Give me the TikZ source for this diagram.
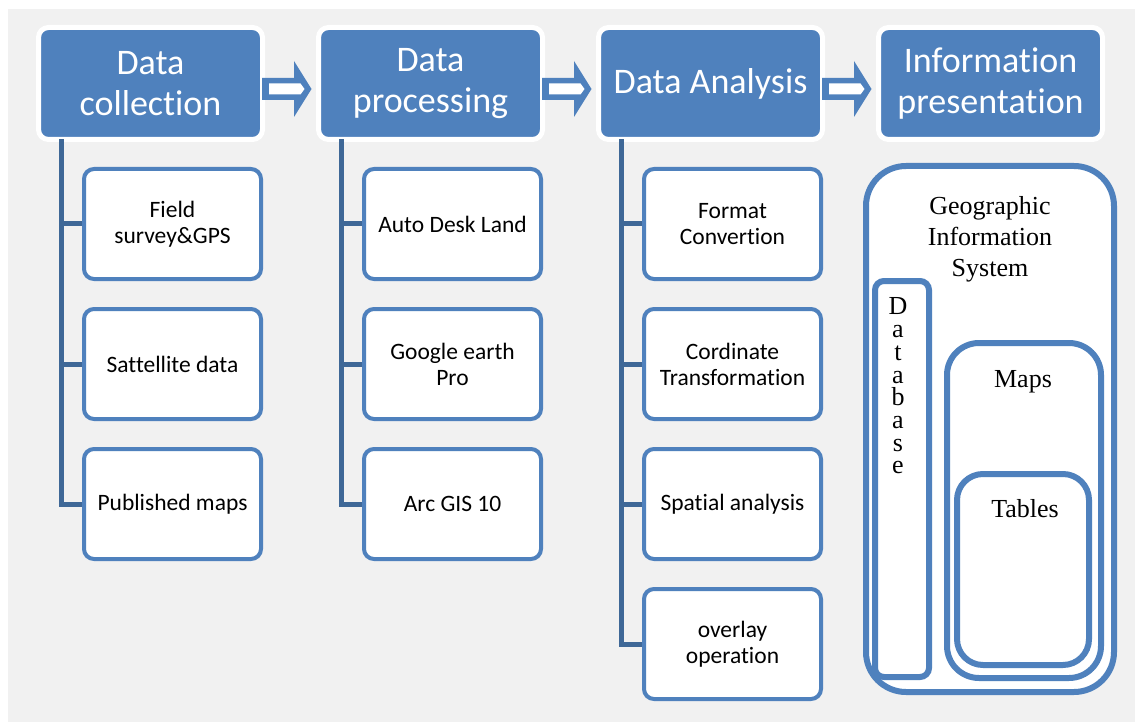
\documentclass[tikz,border=0pt]{standalone}
\usepackage{fontspec}
\setmainfont[Ligatures=NoCommon]{Carlito}
\newfontfamily\serifgis{Liberation Serif}
\usetikzlibrary{calc}
\definecolor{hblue}{HTML}{4F81BD}
\definecolor{cblue}{HTML}{4F81BD}
\definecolor{lblue}{HTML}{3F6897}
\definecolor{bgray}{HTML}{F1F1F1}
\begin{document}
\begin{tikzpicture}[x=1pt,y=-1pt,
 header/.style={rectangle, rounded corners=10pt, fill=hblue, draw=white, line width=5pt, minimum width=224pt, minimum height=112pt, inner sep=0pt, outer sep=0pt, text=white, align=center, font=\fontsize{36}{41}\selectfont},
 item/.style={rectangle, rounded corners=10pt, fill=white, draw=cblue, line width=4pt, minimum width=177pt, minimum height=110pt, inner sep=0pt, outer sep=2pt, align=center, font=\fontsize{23.5}{26}\selectfont},
 conn/.style={draw=lblue, line width=5pt},
 gisbox/.style={rectangle, draw=cblue, fill=white, line width=6pt, inner sep=0pt, outer sep=0pt},
 gistext/.style={font=\serifgis\fontsize{26}{31}\selectfont, align=center, inner sep=0pt},
 arrowout/.style={fill=hblue},
 arrowin/.style={fill=white}
]
\useasboundingbox (0,0) rectangle (1135,722);
\fill[white] (0,0) rectangle (1135,722);
\fill[bgray] (8,9) rectangle (1135,722);

% headers
\node[header] (h1) at (150.5,83.5) {Data\\collection};
\node[header] (h2) at (430.5,83.5) {Data\\processing};
\node[header] (h3) at (710.5,83.5) {Data Analysis};
\node[header] (h4) at (990.5,83.5) {Information\\presentation};

% items
\node[item] (c11) at (172.5,224) {Field\\survey\&GPS};
\node[item] (c12) at (172.5,364) {Sattellite data};
\node[item] (c13) at (172.5,504) {Published maps};
\node[item] (c21) at (452.5,224) {Auto Desk Land};
\node[item] (c22) at (452.5,364) {Google earth\\Pro};
\node[item] (c23) at (452.5,504) {Arc GIS 10};
\node[item] (c31) at (732.5,224) {Format\\Convertion};
\node[item] (c32) at (732.5,364) {Cordinate\\Transformation};
\node[item] (c33) at (732.5,504) {Spatial analysis};
\node[item] (c34) at (732.5,644) {overlay\\operation};

% connectors
\coordinate (v1) at ([xshift=22.5pt]h1.south west);
\coordinate (v2) at ([xshift=22.5pt]h2.south west);
\coordinate (v3) at ([xshift=22.5pt]h3.south west);
\draw[conn] (v1) |- (c13.west);
\draw[conn] (c11.west) -- (c11.west -| v1);
\draw[conn] (c12.west) -- (c12.west -| v1);
\draw[conn] (v2) |- (c23.west);
\draw[conn] (c21.west) -- (c21.west -| v2);
\draw[conn] (c22.west) -- (c22.west -| v2);
\draw[conn] (v3) |- (c34.west);
\draw[conn] (c31.west) -- (c31.west -| v3);
\draw[conn] (c32.west) -- (c32.west -| v3);
\draw[conn] (c33.west) -- (c33.west -| v3);

% block arrows between headers
\foreach \h in {h1,h2,h3}{
  \begin{scope}[shift={(\h.east)}]
    \fill[arrowout] (-0.5,-5.5) -- (31.5,-5.5) -- (31.5,-22.5) -- (49,5.5) -- (31.5,33.5) -- (31.5,16.5) -- (-0.5,16.5) -- cycle;
    \fill[arrowin] (6.5,0) -- (38,0) -- (42,5.5) -- (38,11) -- (6.5,11) -- cycle;
  \end{scope}
}

% GIS
\node[gisbox, rounded corners=40pt, minimum width=248pt, minimum height=526pt] (gis) at (990,429) {};
\node[gisbox, rounded corners=9pt, minimum width=54pt, minimum height=396pt] (db) at (902,479) {};
\node[gisbox, rounded corners=32pt, minimum width=154pt, minimum height=335pt] (maps) at (1024,510.5) {};
\node[gisbox, rounded corners=26pt, minimum width=132pt, minimum height=191pt] (tables) at (1023,569.5) {};
\node[gistext] (gist) at (990,239) {Geographic\\Information\\System};
\node[gistext, font=\serifgis\fontsize{26}{22.7}\selectfont] (dbt) at (898,386) {D\\a\\t\\a\\b\\a\\s\\e};
\node[gistext, anchor=base] (mapst) at (1023,387) {Maps};
\node[gistext, anchor=base] (tablest) at (1025,517) {Tables};
\end{tikzpicture}
\end{document}
